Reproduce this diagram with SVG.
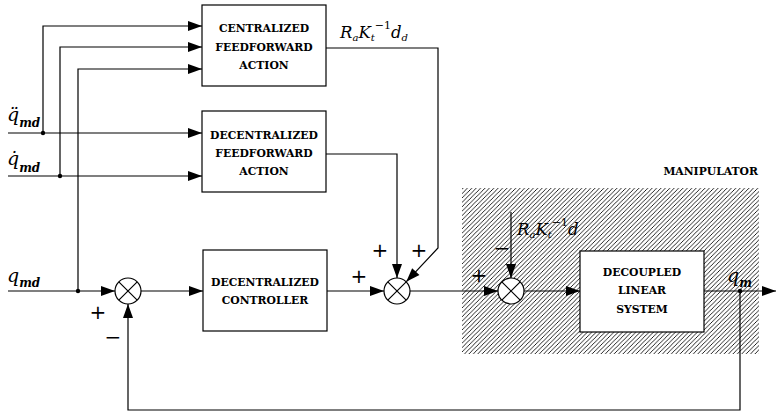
<svg xmlns="http://www.w3.org/2000/svg" width="776" height="413" viewBox="0 0 776 413">
<defs>
<marker id="ah" markerUnits="userSpaceOnUse" markerWidth="14" markerHeight="10" refX="14" refY="5" orient="auto" overflow="visible">
<path d="M0,0 L14,5 L0,10 z" fill="#000"/>
</marker>
<pattern id="hatch" patternUnits="userSpaceOnUse" width="4.4" height="4.4">
<path d="M-1,1 L1,-1 M0,4.4 L4.4,0 M3.4,5.4 L5.4,3.4" stroke="#000" stroke-width="0.85"/>
</pattern>
<style>
.ln{fill:none;stroke:#000;stroke-width:1.2}
.arr{marker-end:url(#ah)}
.box{fill:#fff;stroke:#000;stroke-width:1.2}
.sum{fill:#fff;stroke:#000;stroke-width:1.2}
.bt{font-family:'DejaVu Serif',serif;font-weight:bold;font-size:10.8px;text-anchor:middle;fill:#000}
.sg{font-family:'DejaVu Sans',sans-serif;font-size:20px;text-anchor:middle;fill:#000}
.mt{font-family:'DejaVu Serif',serif;font-style:italic;fill:#000}
.dot{fill:#000}
</style>
</defs>
<rect width="776" height="413" fill="#fff"/>

<g id="manipulator">
<rect x="462" y="188" width="297" height="166" fill="url(#hatch)"/>
<text x="758" y="175" class="bt" style="text-anchor:end">MANIPULATOR</text>
</g>

<g id="connectors">
<path class="ln arr" d="M8,133 L202,133"/>
<path class="ln arr" d="M8,176 L202,176"/>
<path class="ln arr" d="M43,133 L43,26 L202,26"/>
<path class="ln arr" d="M60,176 L60,47 L202,47"/>
<path class="ln arr" d="M78,291 L78,69 L202,69"/>
<path class="ln arr" d="M8,291 L115,291"/>
<path class="ln arr" d="M141,291 L203,291"/>
<path class="ln arr" d="M327,291 L384,291"/>
<path class="ln arr" d="M326,154 L397,154 L397,278"/>
<path class="ln arr" d="M326,48 L438,48 L438,248 L406.2,281.8"/>
<path class="ln arr" d="M410,291 L498,291"/>
<path class="ln arr" d="M511,212 L511,278"/>
<path class="ln arr" d="M524,291 L580,291"/>
<path class="ln arr" d="M704,291 L776,291"/>
<path class="ln arr" d="M740,291 L740,410 L128,410 L128,304"/>
<circle class="dot" cx="43" cy="133" r="2.2"/>
<circle class="dot" cx="60" cy="176" r="2.2"/>
<circle class="dot" cx="78" cy="291" r="2.2"/>
<circle class="dot" cx="740" cy="291" r="2.2"/>
</g>

<g id="centralized_ff">
<rect class="box" x="202" y="5" width="124" height="81"/>
<text class="bt" x="264" y="32">CENTRALIZED</text>
<text class="bt" x="264" y="51">FEEDFORWARD</text>
<text class="bt" x="264" y="69">ACTION</text>
</g>

<g id="decentralized_ff">
<rect class="box" x="202" y="111" width="124" height="81"/>
<text class="bt" x="264" y="139">DECENTRALIZED</text>
<text class="bt" x="264" y="157">FEEDFORWARD</text>
<text class="bt" x="264" y="175">ACTION</text>
</g>

<g id="controller">
<rect class="box" x="203" y="250" width="124" height="81"/>
<text class="bt" x="265" y="286">DECENTRALIZED</text>
<text class="bt" x="265" y="304">CONTROLLER</text>
</g>

<g id="decoupled">
<rect class="box" x="580" y="251" width="124" height="81"/>
<text class="bt" x="642" y="276">DECOUPLED</text>
<text class="bt" x="642" y="294">LINEAR</text>
<text class="bt" x="642" y="313">SYSTEM</text>
</g>

<g id="sum1">
<circle class="sum" cx="128" cy="291" r="13"/>
<path class="ln" d="M118.8,281.8 L137.2,300.2 M137.2,281.8 L118.8,300.2"/>
<text class="sg" x="98" y="319">+</text>
<text class="sg" x="113" y="344">−</text>
</g>

<g id="sum2">
<circle class="sum" cx="397" cy="291" r="13"/>
<path class="ln" d="M387.8,281.8 L406.2,300.2 M406.2,281.8 L387.8,300.2"/>
<text class="sg" x="380" y="257">+</text>
<text class="sg" x="419" y="257">+</text>
<text class="sg" x="359" y="283">+</text>
</g>

<g id="sum3">
<circle class="sum" cx="511" cy="291" r="13"/>
<path class="ln" d="M501.8,281.8 L520.2,300.2 M520.2,281.8 L501.8,300.2"/>
<text class="sg" x="479" y="282">+</text>
<text class="sg" x="502" y="255">−</text>
</g>

<g id="labels">
<text class="mt" x="7" y="121" font-size="19">q̈<tspan font-size="12" font-weight="bold" dy="6">md</tspan></text>
<text class="mt" x="7" y="165" font-size="19">q̇<tspan font-size="12" font-weight="bold" dy="7">md</tspan></text>
<text class="mt" x="7" y="282" font-size="19">q<tspan font-size="12" font-weight="bold" dy="5">md</tspan></text>
<text class="mt" x="727" y="282" font-size="19">q<tspan font-size="12" font-weight="bold" dy="5">m</tspan></text>
<text class="mt" x="340" y="38" font-size="16.5">R<tspan font-size="10" dy="3">a</tspan><tspan dy="-3">K</tspan><tspan font-size="10" dy="3">t</tspan><tspan font-size="11" dy="-12" font-style="normal">−1</tspan><tspan dy="9">d</tspan><tspan font-size="10" dy="3">d</tspan></text>
<text class="mt" x="517" y="235" font-size="16.5">R<tspan font-size="10" dy="3">a</tspan><tspan dy="-3">K</tspan><tspan font-size="10" dy="3">t</tspan><tspan font-size="11" dy="-12" font-style="normal">−1</tspan><tspan dy="9">d</tspan></text>
</g>
</svg>
